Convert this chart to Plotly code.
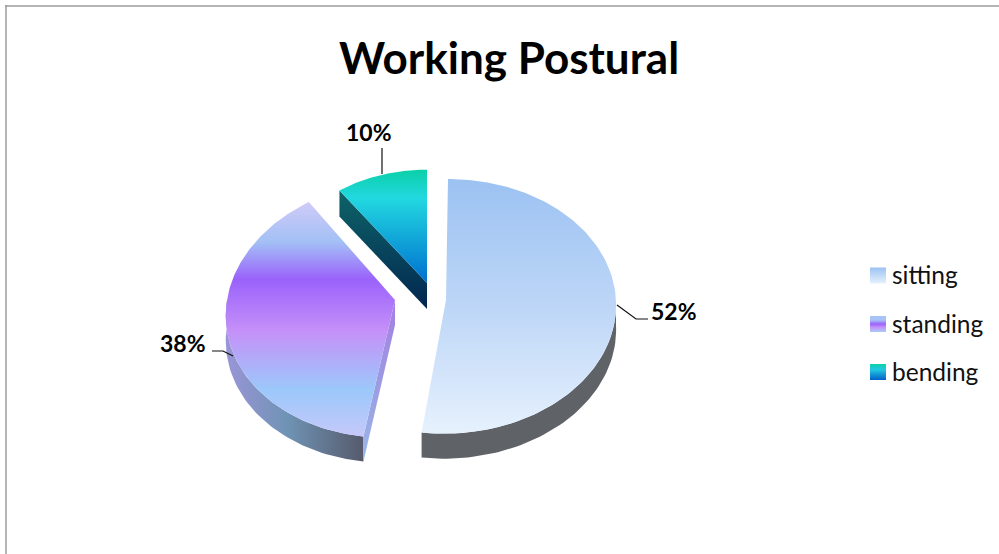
import numpy as np
import plotly.graph_objects as go

# Chart content
TITLE = "Working Postural"
categories = ["sitting", "standing", "bending"]
shares = [52, 38, 10]

# Projection of each exploded slice onto the page (pixel axes)
SLICE_VIEW = {
    "sitting":  dict(cx=446, cy=300, rx=170, ry=127, k=0.05, shear=-2),
    "standing": dict(cx=395, cy=300, rx=168, ry=128, k=0.07, shear=-9),
    "bending":  dict(cx=427, cy=283, rx=155, ry=119, k=0.05, shear=0),
}
DEPTH = 25

# Colour stops run from the top of a shape to its bottom
FACE_STOPS = {
    "sitting":  [[0, "#9cc2f2"], [0.5, "#bdd6f7"], [1, "#e6f1fd"]],
    "standing": [[0, "#cfcbf8"], [0.17, "#a3c0f5"], [0.33, "#9a62fb"],
                 [0.55, "#c590f8"], [0.8, "#9cc8fa"], [1, "#c6c8fa"]],
    "bending":  [[0, "#0ad0a8"], [0.25, "#22d8e0"], [1, "#0070d0"]],
}
LEGEND_STOPS = {
    "sitting":  [[0, "#9cc2f2"], [1, "#e6f1fd"]],
    "standing": [[0, "#a8c4f6"], [0.25, "#a8c4f6"], [0.5, "#9a62fb"],
                 [0.7, "#c590f8"], [1, "#a8ccfa"]],
    "bending":  [[0, "#0ad0a8"], [0.35, "#22c8e0"], [1, "#0060c8"]],
}
LEGEND_ROWS = {"sitting": 275.5, "standing": 324, "bending": 372}

FONT = "Lato, Carlito, Calibri, sans-serif"


def rim(view, theta):
    """Project angles on the pie (clockwise from 12 o'clock) to page pixels."""
    u, v = np.sin(theta), -np.cos(theta)
    d = 1 - view["k"] * v
    return (view["cx"] + view["rx"] * u / d + view["shear"] * v,
            view["cy"] + view["ry"] * v / d)


def patch(x, y, name, stops, gtype="vertical"):
    # The y axis is inverted, so vertical gradients are given bottom-up
    if gtype == "vertical":
        stops = [[1 - p, c] for p, c in reversed(stops)]
    return go.Scatter(
        x=np.r_[x, x[0]], y=np.r_[y, y[0]], mode="lines", fill="toself",
        line=dict(width=0), name=name, showlegend=False, hoverinfo="name",
        fillgradient=dict(type=gtype, colorscale=stops),
    )


fig = go.Figure()

# Slice boundaries follow from the cumulative shares
edges = np.r_[0, np.cumsum(shares)] / sum(shares) * 2 * np.pi
bounds = {c: (edges[i], edges[i + 1]) for i, c in enumerate(categories)}

# Side walls first, so the top faces cover their hidden parts
a0, a1 = bounds["bending"]
v = SLICE_VIEW["bending"]
tx, ty = rim(v, np.array([a0]))
fig.add_trace(patch(
    np.array([tx[0], v["cx"], v["cx"], tx[0]]),
    np.array([ty[0], v["cy"], v["cy"] + DEPTH + 1, ty[0] + DEPTH + 1]),
    "bending", [[0, "#0e6468"], [1, "#022650"]]))

a0, a1 = bounds["standing"]
v = SLICE_VIEW["standing"]
arc = np.linspace(a0, 1.5 * np.pi, 60)
ax_, ay_ = rim(v, arc)
fig.add_trace(patch(np.r_[ax_, ax_[::-1]], np.r_[ay_, ay_[::-1] + DEPTH],
                    "standing",
                    [[0, "#9a95d8"], [0.45, "#6f93b4"], [1, "#565a6c"]],
                    gtype="horizontal"))
tx, ty = rim(v, np.array([a0]))
fig.add_trace(patch(
    np.array([v["cx"], tx[0], tx[0], v["cx"]]),
    np.array([v["cy"], ty[0], ty[0] + DEPTH, v["cy"] + DEPTH]),
    "standing", [[0, "#a47fe2"], [0.5, "#9c9ae2"], [1, "#9ab8e8"]]))

a0, a1 = bounds["sitting"]
v = SLICE_VIEW["sitting"]
arc = np.linspace(0.5 * np.pi, a1, 60)
ax_, ay_ = rim(v, arc)
fig.add_trace(patch(np.r_[ax_, ax_[::-1]], np.r_[ay_, ay_[::-1] + DEPTH],
                    "sitting", [[0, "#5f6368"], [1, "#5f6368"]]))

# Top faces
for c in categories:
    a0, a1 = bounds[c]
    v = SLICE_VIEW[c]
    x, y = rim(v, np.linspace(a0, a1, 160))
    fig.add_trace(patch(np.r_[v["cx"], x], np.r_[v["cy"], y], c, FACE_STOPS[c]))

# Legend swatches with their labels
for c in categories:
    yc = LEGEND_ROWS[c]
    fig.add_trace(patch(np.array([870.0, 886, 886, 870]),
                        np.array([yc - 8, yc - 8, yc + 8, yc + 8]),
                        c, LEGEND_STOPS[c]))
    fig.add_annotation(x=890, y=yc - 1, text=c, showarrow=False, xanchor="left",
                       yanchor="middle", font=dict(family=FONT, size=24.5, color="#111111"))

# Percentage labels with their leader lines
value_labels = {"sitting": (649, 311), "standing": (158, 343), "bending": (344, 132)}
for c, s in zip(categories, shares):
    lx, ly = value_labels[c]
    fig.add_annotation(x=lx, y=ly, text=f"<b>{s}%</b>", showarrow=False, xanchor="left",
                       yanchor="middle", font=dict(family=FONT, size=23, color="#000000"))

leader = dict(color="#111111", width=1.2)
shapes = [
    dict(type="path", path="M617,305 L636,319 L648,319", line=leader),
    dict(type="path", path="M233,356 L223,351 L212,351", line=leader),
    dict(type="path", path="M382,148 L382,174", line=leader),
    dict(type="line", x0=5, x1=999, y0=6, y1=6, line=dict(color="#9c9c9c", width=1.5)),
    dict(type="line", x0=6, x1=6, y0=5, y1=554, line=dict(color="#9c9c9c", width=1.5)),
]

fig.update_layout(
    width=999, height=554, margin=dict(l=0, r=0, t=0, b=0),
    paper_bgcolor="white", plot_bgcolor="white", showlegend=False,
    shapes=shapes,
    xaxis=dict(range=[0, 999], visible=False, fixedrange=True),
    yaxis=dict(range=[554, 0], visible=False, fixedrange=True),
    annotations=list(fig.layout.annotations) + [
        dict(x=509, y=57, text=f"<b>{TITLE}</b>", showarrow=False, xanchor="center",
             yanchor="middle", font=dict(family=FONT, size=44, color="#000000"))
    ],
)

fig.write_html("out.html", config=dict(displayModeBar=False))
